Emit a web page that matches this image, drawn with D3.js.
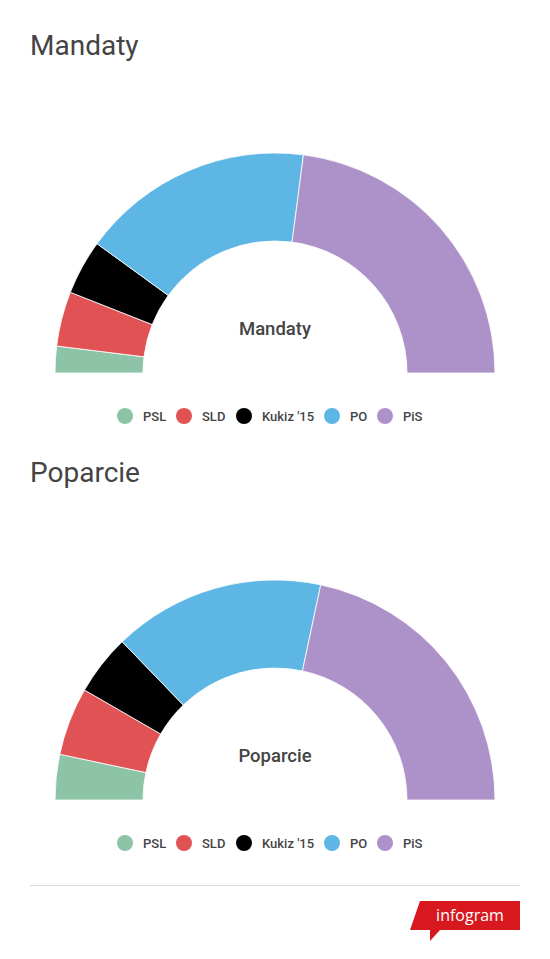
<!DOCTYPE html>
<html>
<head>
<meta charset="utf-8">
<script src="https://cdn.jsdelivr.net/npm/d3@7"></script>
<style>
  body { margin: 0; background: #fff; font-family: Roboto, sans-serif; }
</style>
</head>
<body>
<svg width="550" height="959"></svg>
<script>
// parties, left to right along the half ring
const parties = ["PSL", "SLD", "Kukiz '15", "PO", "PiS"];
const partyColors = ["#8dc4a8", "#e05254", "#000000", "#5db6e4", "#ad92c9"];
// seats (Mandaty)
const seats = [18, 37, 37, 157, 211];
// support in % (Poparcie)
const support = [6, 9, 8, 28, 39];

const charts = [
  { title: "Mandaty", values: seats, top: 0 },
  { title: "Poparcie", values: support, top: 427 }
];

const svg = d3.select("svg");
const color = d3.scaleOrdinal().domain(parties).range(partyColors);

const outerR = 220, innerR = 132;
const arc = d3.arc().innerRadius(innerR).outerRadius(outerR);
const pie = d3.pie()
    .sort(null)
    .startAngle(-Math.PI / 2)
    .endAngle(Math.PI / 2);

charts.forEach(function(c) {
    const g = svg.append("g").attr("transform", `translate(0,${c.top})`);

    g.append("text")
        .attr("x", 30)
        .attr("y", 55)
        .attr("font-size", "28px")
        .attr("fill", "#444")
        .text(c.title);

    const data = parties.map((p, i) => ({ party: p, value: c.values[i] }));

    const ring = g.append("g").attr("transform", "translate(275,373)");
    ring.selectAll("path")
        .data(pie.value(d => d.value)(data))
        .join("path")
        .attr("d", arc)
        .attr("fill", d => color(d.data.party))
        .attr("stroke", "#fff")
        .attr("stroke-width", 0.8);

    ring.append("text")
        .attr("y", -38)
        .attr("text-anchor", "middle")
        .attr("font-size", "18.5px")
        .attr("font-weight", 500)
        .attr("fill", "#444")
        .text(c.title);

    // legend
    const legendX = [125, 184, 244, 332, 385];
    const legend = g.append("g").attr("transform", "translate(0,416)");
    const item = legend.selectAll("g")
        .data(parties)
        .join("g")
        .attr("transform", (d, i) => `translate(${legendX[i]},0)`);
    item.append("circle")
        .attr("r", 8)
        .attr("fill", d => color(d));
    item.append("text")
        .attr("x", 18)
        .attr("dy", "0.35em")
        .attr("font-size", "13px")
        .attr("font-weight", 500)
        .attr("fill", "#444")
        .text(d => d);
});

// footer
svg.append("line")
    .attr("x1", 30).attr("x2", 520)
    .attr("y1", 885.5).attr("y2", 885.5)
    .attr("stroke", "#dcdcdc");

const logo = svg.append("g");
logo.append("path")
    .attr("d", "M420,901 L520,901 L520,930 L440,930 L430,941 L430,930 L410,930 Z")
    .attr("fill", "#d7191f");
logo.append("text")
    .attr("x", 470)
    .attr("y", 921)
    .attr("text-anchor", "middle")
    .attr("font-size", "16px")
    .attr("font-family", "'Open Sans', sans-serif")
    .attr("fill", "#fff")
    .text("infogram");
</script>
</body>
</html>
